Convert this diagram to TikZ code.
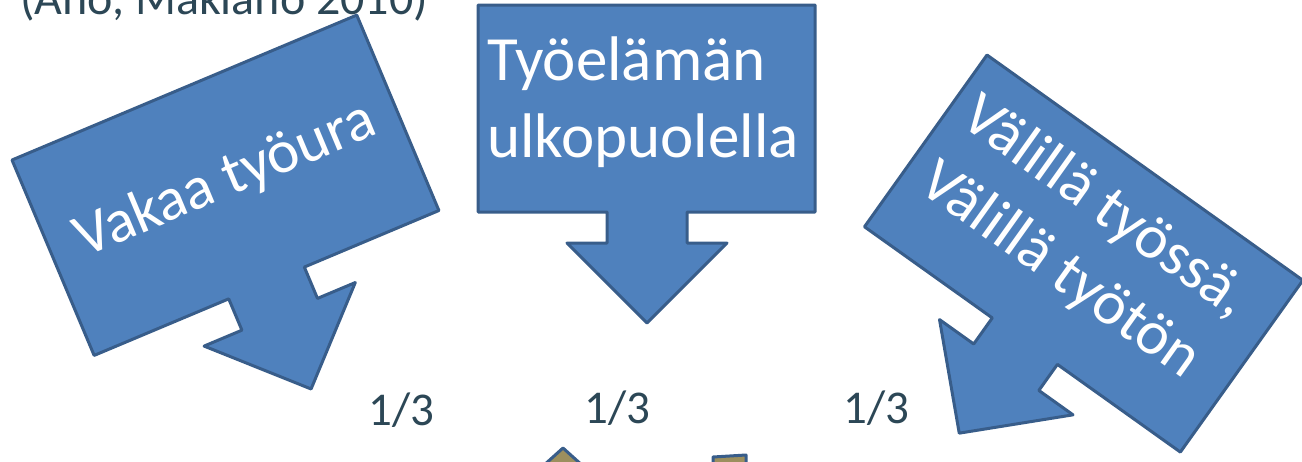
\documentclass[tikz,border=0pt]{standalone}
\usepackage{fontspec}
\setmainfont{Carlito}
\definecolor{boxfill}{HTML}{4F81BD}
\definecolor{boxedge}{HTML}{385D8A}
\definecolor{labeltext}{HTML}{2C4756}
\definecolor{pinfill}{HTML}{9C8F5E}
\tikzset{
  callout/.style={fill=boxfill, draw=boxedge, line width=3pt, line join=round},
  calltext/.style={text=white, inner sep=0pt, anchor=base},
  share/.style={text=labeltext, inner sep=0pt, anchor=base west,
    font=\fontsize{47}{56}\selectfont},
}
% Down-pointing callout in local coordinates (y grows downwards):
% #1 width, #2 height, #3 arrow axis, #4 neck half width,
% #5 end of neck, #6 head half width, #7 tip
\newcommand\calloutshape[7]{%
  \draw[callout] (0,0) -- (#1,0) -- (#1,#2) -- ({#3+#4},#2) -- ({#3+#4},#5)
    -- ({#3+#6},#5) -- (#3,#7) -- ({#3-#6},#5) -- ({#3-#4},#5)
    -- ({#3-#4},#2) -- (0,#2) -- cycle;}
\begin{document}
\begin{tikzpicture}[x=1pt, y=-1pt]
\useasboundingbox (0,0) rectangle (1302,461);

% citation, partly above the top edge
\node[share, font=\fontsize{48}{57}\selectfont] (cite) at (20,14)
  {(Aho, Mäkiaho 2010)};

% left callout
\begin{scope}[shift={(12,160)}, rotate=22.8]
  \calloutshape{374}{212}{187}{41}{246}{82}{327}
  \node[calltext, rotate=22.8, font=\fontsize{61}{74}\selectfont]
    (stable) at (189,118) {Vakaa työura};
\end{scope}

% middle callout
\begin{scope}[shift={(478,5)}]
  \calloutshape{337}{207}{169}{40}{238}{80}{318}
  \node[calltext, anchor=base west, font=\fontsize{63}{77}\selectfont]
    (out1) at (9,75) {Työelämän};
  \node[calltext, anchor=base west, font=\fontsize{63}{77}\selectfont]
    (out2) at (9,152) {ulkopuolella};
\end{scope}

% right callout
\begin{scope}[shift={(987,55)}, rotate=-35.5]
  \calloutshape{388}{211}{197}{40}{243}{82}{324}
  \node[calltext, rotate=-35.5, font=\fontsize{62}{77}\selectfont]
    (mix1) at (185,72) {Välillä työssä,};
  \node[calltext, rotate=-35.5, font=\fontsize{62}{77}\selectfont]
    (mix2) at (185,150) {Välillä työtön};
\end{scope}

% shares
\node[share] (s1) at (368,425) {1/3};
\node[share] (s2) at (584,423) {1/3};
\node[share] (s3) at (843,423) {1/3};

% shapes entering from below
\draw[fill=pinfill, draw=boxedge, line width=3pt, line join=round]
  (543,466) -- (563,448) -- (583,466) -- cycle;
\draw[fill=pinfill, draw=boxedge, line width=3pt, line join=round]
  (713,470) -- (713,457) -- (746,455) -- (746,470) -- cycle;
\end{tikzpicture}
\end{document}
